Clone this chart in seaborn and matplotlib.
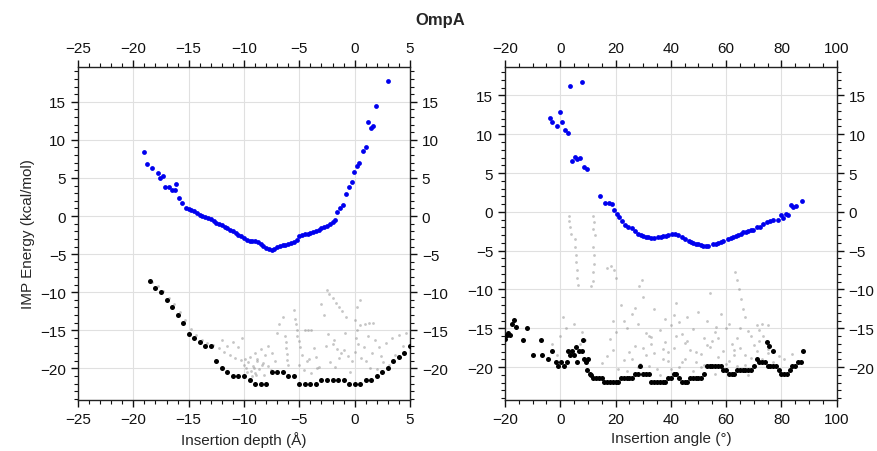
import numpy as np
import seaborn as sns
import matplotlib.pyplot as plt
from matplotlib.ticker import MultipleLocator

# ---- data ----
# insertion depth panel: lowest-energy path (blue)
depth_blue_x = [-19.0, -18.8, -18.3, -17.8, -17.6, -17.3, -17.1, -16.75, -16.5, -16.2, -16.1,
                -15.85, -15.6, -15.25,
                -15.0, -14.75, -14.5, -14.25, -14.0, -13.75, -13.5, -13.25, -13.0, -12.75,
                -12.5, -12.25, -12.0, -11.75, -11.5, -11.25, -11.0, -10.75, -10.5, -10.25,
                -10.0, -9.75, -9.5, -9.25, -9.0, -8.75, -8.5, -8.25, -8.0, -7.75, -7.5,
                -7.25, -7.0, -6.75, -6.5, -6.25, -6.0, -5.75, -5.5, -5.25, -5.0, -4.75,
                -4.5, -4.25, -4.0, -3.75, -3.5, -3.25, -3.0, -2.75, -2.5, -2.25, -2.0,
                -1.8, -1.6, -1.3, -1.05, -0.8, -0.55, -0.25, -0.05, 0.17, 0.4, 0.72, 1.0,
                1.2, 1.45, 1.7, 1.95, 2.97]
depth_blue_y = [8.35, 6.8, 6.3, 5.7, 5.0, 5.2, 3.8, 3.85, 3.4, 3.4, 4.2,
                2.35, 1.75, 1.1,
                0.95, 0.75, 0.6, 0.35, 0.2, 0.05, -0.1, -0.3, -0.45, -0.65,
                -0.85, -1.0, -1.2, -1.4, -1.6, -1.8, -2.0, -2.2, -2.45, -2.65,
                -2.9, -3.1, -3.25, -3.3, -3.3, -3.45, -3.7, -3.95, -4.2, -4.35, -4.4,
                -4.3, -4.1, -3.95, -3.85, -3.8, -3.7, -3.6, -3.45, -3.1, -2.6, -2.45,
                -2.35, -2.3, -2.2, -2.05, -1.95, -1.8, -1.6, -1.45, -1.25, -1.05, -0.8,
                -0.5, 0.5, 1.1, 1.5, 2.85, 3.85, 4.5, 5.8, 6.6, 7.0, 8.6, 9.1,
                12.4, 11.6, 11.8, 14.4, 17.7]

# insertion depth panel: minimum energies (black)
depth_black_x = [-18.5, -18.0, -17.5, -17.0, -16.5, -16.0, -15.5, -15.0, -14.5, -14.0,
                 -13.5, -13.0, -12.5, -12.0, -11.5, -11.0, -10.5, -10.0, -9.5, -9.0,
                 -8.5, -8.0, -7.5, -7.0, -6.5, -6.0, -5.5, -5.0, -4.5, -4.0,
                 -3.5, -3.0, -2.5, -2.0, -1.5, -1.0, -0.5, 0.0, 0.5, 1.0,
                 1.5, 2.0, 2.5, 3.0, 3.5, 4.0, 4.5, 5.0]
depth_black_y = [-8.5, -9.5, -10.0, -11.0, -12.0, -13.0, -14.0, -15.5, -16.0, -16.5,
                 -17.0, -17.0, -19.0, -20.0, -20.5, -21.0, -21.0, -21.0, -21.5, -22.0,
                 -22.0, -22.0, -20.5, -20.5, -20.5, -21.0, -21.0, -22.0, -22.0, -22.0,
                 -22.0, -21.5, -21.5, -21.5, -21.5, -21.5, -22.0, -22.0, -22.0, -21.5,
                 -21.5, -21.0, -20.5, -20.0, -19.0, -18.5, -18.0, -17.0]

# insertion depth panel: all sampled states (faint grey)
depth_grey_x = [-18.3, -17.8, -17.3, -16.8, -16.3, -15.8, -15.3, -14.8, -14.3, -13.8, -13.3,
                -12.8, -12.3, -11.8, -11.3, -10.8, -10.3,
                -10.0, -9.8, -9.6, -9.4, -9.2, -9.0, -8.8, -8.6, -8.4, -8.2, -9.5, -9.0,
                -8.5, -8.8, -9.3, -8.1, -7.8, -7.5, -7.2, -7.8,
                -11.5, -11.0, -10.5, -12.0, -10.2,
                -6.2, -6.2, -6.1, -6.1, -6.0, -6.3,
                -5.4, -5.3, -5.2, -5.2, -5.0, -4.9,
                -4.5, -4.2, -3.9,
                -5.0, -4.6, -4.3, -3.9, -3.5, -3.2, -4.8, -3.7, -6.8, -7.0, -6.5,
                -2.5, -2.3, -2.0, -1.7, -1.4, -1.1, -0.8,
                -2.8, -2.4, -2.0, -1.6, -1.2, -1.0, -0.6, -1.4, -2.2, -0.2, 0.0,
                0.2, 0.1, 0.3, 0.0, 0.2, 0.5,
                0.5, 0.9, 1.3, 1.7,
                1.0, 1.6, 2.2, 2.8, 3.4, 4.0, 4.6, 1.4, 2.6, 3.6, 4.4, 1.8, 0.8,
                -5.5, -3.0,
                -9.7, -9.1, -8.9, -8.3, -9.9, -7.6, -4.1, -3.4, -1.8, -0.4, 0.6, 2.0,
                -2.6, -1.9, -0.9, 1.2, 2.4, 3.1]
depth_grey_y = [-8.6, -9.2, -9.9, -10.7, -11.6, -12.6, -13.6, -14.8, -15.6, -16.2, -16.6,
                -16.9, -17.3, -17.8, -18.2, -18.6, -18.9,
                -19.5, -20.0, -19.2, -20.3, -19.7, -20.6, -19.0, -20.1, -19.5, -20.8, -18.5, -18.0,
                -17.5, -18.8, -21.0, -18.2, -17.0, -18.0, -19.0, -19.7,
                -17.0, -16.5, -17.2, -16.2, -16.0,
                -16.5, -17.3, -18.1, -18.9, -19.6, -15.8,
                -13.5, -14.2, -14.9, -15.7, -16.4, -17.2,
                -14.9, -14.95, -14.9,
                -19.5, -20.2, -19.0, -20.6, -18.5, -19.8, -18.2, -17.3, -14.2, -15.3, -13.2,
                -9.7, -10.2, -10.8, -11.4, -12.0, -12.5, -13.2,
                -13.0, -15.5, -16.8, -17.4, -18.0, -17.6, -18.3, -18.6, -19.2, -19.0, -17.8,
                -15.0, -16.0, -16.8, -13.6, -12.0, -11.0,
                -14.3, -14.2, -14.1, -14.0,
                -19.0, -18.0, -17.2, -16.6, -16.0, -15.6, -15.3, -20.0, -19.2, -18.2, -17.0, -16.2, -17.2,
                -12.3, -11.5,
                -20.5, -19.9, -20.9, -19.3, -18.8, -20.2, -18.8, -20.0, -19.8, -20.4, -18.6, -20.1,
                -17.0, -16.2, -15.4, -15.8, -18.4, -19.6]

# insertion angle panel: lowest-energy path (blue)
angle_blue_x = [-3.7, -2.9, -1.1, -0.1, 0.7, 1.6, 2.7, 3.5, 4.35, 5.3, 6.2, 7.1, 7.9, 8.7, 9.8,
                14.4, 16.2, 17.7, 18.6, 19.5, 20.5, 21.4, 22.3, 23.4, 24.6, 25.8, 27.0,
                28.2, 29.2, 30.0, 31.0, 31.9, 33.0, 34.0, 35.5, 36.5, 37.3, 38.2, 39.0, 40.3, 41.5, 42.7,
                44.0, 45.1, 46.5, 47.3, 48.1, 49.0, 50.0, 51.0, 51.7, 52.6, 53.5, 55.4, 56.3, 57.2, 58.1,
                59.0, 60.8, 61.7, 62.6, 63.5,
                64.4, 65.3, 66.2, 67.1, 68.0, 68.9, 69.8, 71.1, 72.3, 73.5, 74.7, 76.0, 77.1, 78.9, 79.8,
                80.7, 81.6, 82.5, 83.4, 84.3, 85.3, 87.3]
angle_blue_y = [12.1, 11.6, 11.1, 12.9, 11.6, 10.6, 10.2, 16.2, 6.6, 7.1, 6.75, 6.9, 16.7, 5.8, 5.55,
                2.0, 1.2, 1.2, 0.95, 0.3, -0.25, -0.7, -1.2, -1.65, -1.9, -2.1, -2.45,
                -2.8, -2.95, -3.1, -3.2, -3.25, -3.35, -3.35, -3.3, -3.25, -3.15, -3.1, -3.0, -2.85, -2.8, -2.95,
                -3.2, -3.45, -3.75, -3.9, -4.0, -4.1, -4.2, -4.3, -4.35, -4.35, -4.35, -4.2, -4.1, -4.0, -3.9,
                -3.75, -3.5, -3.35, -3.25, -3.1,
                -2.95, -2.8, -2.65, -2.55, -2.45, -2.4, -2.3, -2.0, -1.9, -1.6, -1.35, -1.2, -1.1, -1.0, -0.45,
                -0.8, -0.25, -0.35, 0.9, 0.6, 0.7, 1.4]

# insertion angle panel: minimum energies (black)
angle_black_x = [-20.0, -19.4, -18.8, -18.2, -17.6, -16.7, -16.0, -13.6, -12.2, -9.8, -7.1,
                 -6.7, -4.3, -3.1, -1.7, -0.7, 0.3, 1.35, 2.3, 2.9, 3.5, 4.35, 5.0, 5.6,
                 6.2, 6.9, 7.75, 8.1, 8.7, 9.3, 9.9, 9.6, 10.75,
                 11, 12, 13, 14, 15, 16, 17, 18, 19, 20, 21, 22, 23, 24, 25, 26, 27, 28,
                 29, 30, 31, 32, 33, 34, 35, 36, 37, 38, 39, 40, 41, 42, 43, 44, 45, 46,
                 47, 48, 49, 50, 51, 52, 53, 54, 55, 56, 57, 58, 59, 60, 61, 62, 63, 64,
                 65, 66, 67, 68, 69, 70, 71, 72, 73, 74, 75, 76, 77, 78, 79, 80, 81, 82,
                 83, 84, 85, 86, 87, 87.7, 74.7, 75.6, 76.9]
angle_black_y = [-16.35, -15.9, -15.6, -15.9, -14.4, -13.9, -14.85, -16.45, -14.9, -18.4, -16.45,
                 -18.4, -18.9, -17.9, -19.35, -19.9, -19.35, -19.9, -19.35, -17.9, -18.4, -17.9, -18.4, -17.4,
                 -19.35, -17.9, -17.9, -16.45, -18.9, -19.35, -18.9, -20.4, -20.9,
                 -21.0, -21.4, -21.4, -21.4, -21.4, -21.9, -21.9, -21.9, -21.9, -21.9, -21.9, -21.4,
                 -21.4, -21.4, -21.4, -21.4, -20.9, -20.9,
                 -19.9, -20.9, -20.9, -20.9, -21.9, -21.9, -21.9, -21.9, -21.9, -21.9, -21.4, -21.4,
                 -20.9, -20.9, -21.4, -21.9, -21.9, -21.9,
                 -21.4, -21.4, -21.4, -21.4, -21.4, -20.9, -19.9, -19.9, -19.9, -19.9, -19.9, -19.9,
                 -20.4, -20.4, -20.9, -20.9, -20.9, -20.4,
                 -20.4, -20.4, -20.4, -20.4, -20.4, -19.9, -18.9, -19.4, -19.4, -19.4, -19.9, -19.9,
                 -19.9, -19.9, -20.4, -20.9, -20.9, -20.9,
                 -20.4, -19.9, -19.9, -19.4, -19.4, -17.9, -16.8, -17.3, -17.9]

# insertion angle panel: all sampled states (faint grey)
angle_grey_x = [3.0, 3.3, 3.6, 4.0, 12.0, 12.3, 11.8, 12.5,
                5.2, 5.4, 5.6, 5.8, 6.0, 6.2, 6.4,
                12.0, 12.1, 12.2, 12.0, 11.8, 11.0,
                16.8, 18.2, 19.6, 20.0, 29.4, 28.5,
                63.2, 64.0, 64.8, 65.5, 66.2, 67.0,
                71, 73, 75, 72, 73.5, 19.2, 56.4,
                -3, 0, 2, 5, 8, -1, 7, 9, 1,
                15, 17, 19, 21, 23, 25, 27, 29, 31, 33, 35, 37, 39, 41, 43, 45, 47, 49,
                51, 53, 55, 57, 59, 61, 63, 65, 67, 69, 71, 73, 75, 77, 79,
                20, 24, 28, 32, 36, 40, 44, 48, 52, 56, 60, 64, 68, 72,
                26, 38, 50, 46, 58, 34, 42, 30, 22, 54,
                24, 28, 32, 36, 40, 44, 48, 52, 56, 60, 64, 68,
                30, 38, 46, 54, 62, 70, 42, 34,
                18, 26, 33, 39, 45, 51, 57, 63, 69, 75, 81, 84,
                23, 31, 37, 43, 49, 55, 61, 67, 27, 41, 53, 65]
angle_grey_y = [-0.5, -1.2, -2.0, -2.8, -0.5, -1.3, -2.2, -3.0,
                -3.5, -4.5, -5.5, -6.5, -7.5, -8.5, -9.4,
                -4.5, -5.6, -6.7, -7.8, -8.9, -9.5,
                -7.2, -7.0, -7.5, -8.5, -8.8, -9.5,
                -7.7, -8.8, -10.0, -11.2, -12.5, -13.5,
                -14.6, -14.4, -14.6, -15.2, -16.0, -14.0, -14.8,
                -17.0, -16.0, -15.0, -14.5, -15.5, -18.5, -17.0, -16.5, -13.5,
                -19.5, -18.6, -17.8, -20.2, -19.1, -18.0, -17.3, -19.6, -18.4, -17.0, -20.3, -19.0,
                -18.1, -17.5, -20.0, -18.9, -17.8, -19.4,
                -18.3, -17.2, -19.9, -18.7, -17.9, -19.2, -18.4, -17.6, -19.7, -18.8, -17.9, -19.0,
                -18.2, -19.4, -18.6,
                -15.5, -15.0, -14.5, -16.0, -15.2, -14.6, -15.8, -15.1, -16.2, -15.5, -15.0, -16.3,
                -15.4, -16.7,
                -13.2, -13.8, -12.9, -13.6, -13.1, -12.5, -11.8, -11.0, -12.0, -10.5,
                -20.5, -20.0, -19.8, -21.0, -20.2, -19.3, -20.5, -19.7, -20.9, -19.6, -19.8, -21.0,
                -17.5, -16.8, -16.6, -17.4, -17.0, -17.2, -16.0, -18.2,
                -16.4, -18.9, -16.1, -19.2, -16.9, -20.0, -16.3, -17.8, -16.0, -17.7, -19.0, -18.3,
                -14.0, -15.6, -17.7, -14.2, -18.0, -16.6, -14.4, -18.5, -12.4, -13.3, -14.1, -14.9]

# ---- styling ----
sns.set_style("ticks")
plt.rcParams["font.family"] = ["Liberation Sans", "DejaVu Sans"]
plt.rcParams["axes.unicode_minus"] = True

fig = plt.figure(figsize=(8.77, 4.52), dpi=100)
ax1 = fig.add_axes([0.0889, 0.1135, 0.3786, 0.7367])
ax2 = fig.add_axes([0.5758, 0.1135, 0.3782, 0.7367])

panels = [
    (ax1, depth_grey_x, depth_grey_y, depth_blue_x, depth_blue_y, depth_black_x, depth_black_y),
    (ax2, angle_grey_x, angle_grey_y, angle_blue_x, angle_blue_y, angle_black_x, angle_black_y),
]
for ax, gx, gy, bx, by, kx, ky in panels:
    sns.scatterplot(x=gx, y=gy, ax=ax, color="#8c8c8c", s=4, alpha=0.5,
                    linewidth=0, zorder=2)
    sns.scatterplot(x=bx, y=by, ax=ax, color="#0000ee", s=12, linewidth=0, zorder=3)
    sns.scatterplot(x=kx, y=ky, ax=ax, color="black", s=13, linewidth=0, zorder=3)
    ax.grid(True, color="#e0e0e0", linewidth=0.8, zorder=0)
    ax.set_axisbelow(True)
    ax.tick_params(which="both", direction="out", top=True, right=True,
                   labeltop=True, labelright=True, labelsize=11, colors="#111111")
    ax.tick_params(which="major", length=5, width=1.0)
    ax.tick_params(which="minor", length=3, width=0.8)
    for sp in ax.spines.values():
        sp.set_color("#222222")
        sp.set_linewidth(1.0)
    ax.yaxis.set_major_locator(MultipleLocator(5))
    ax.yaxis.set_minor_locator(MultipleLocator(1))

ax1.set_xlim(-25, 5)
ax1.set_ylim(-24.1, 19.6)
ax1.xaxis.set_major_locator(MultipleLocator(5))
ax1.xaxis.set_minor_locator(MultipleLocator(1))
ax1.set_xlabel("Insertion depth (Å)", fontsize=11)
ax1.set_ylabel("IMP Energy (kcal/mol)", fontsize=11)

ax2.set_xlim(-20, 100)
ax2.set_ylim(-24.2, 18.7)
ax2.xaxis.set_major_locator(MultipleLocator(20))
ax2.xaxis.set_minor_locator(MultipleLocator(5))
ax2.set_xlabel("Insertion angle (°)", fontsize=11)

fig.text(0.502, 1 - 20 / 452, "OmpA", ha="center", va="center",
         fontsize=12, fontweight="bold")

fig.savefig("out.png", dpi=100)
